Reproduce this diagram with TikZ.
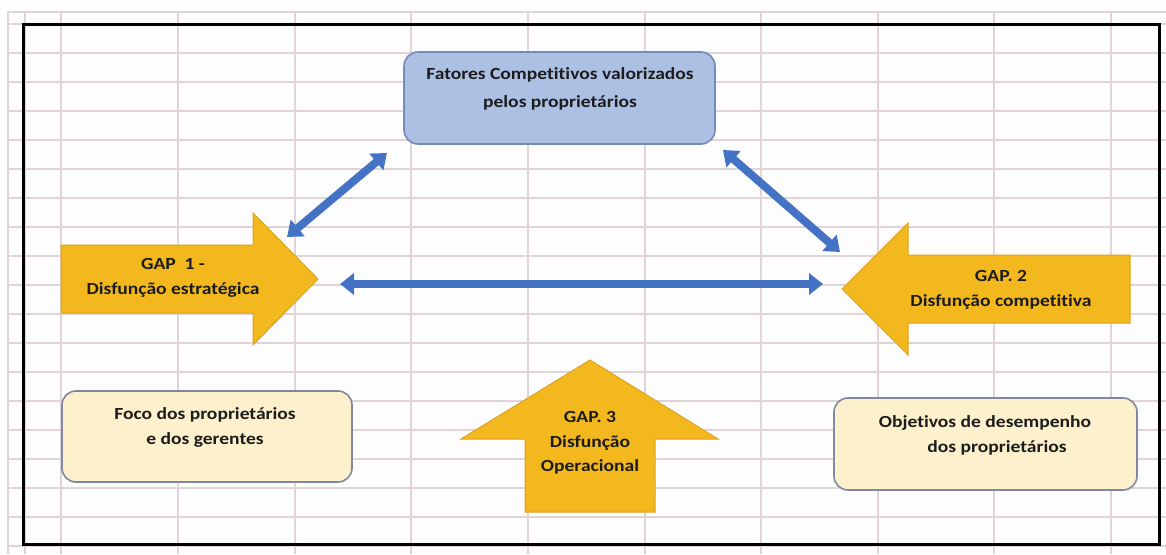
\documentclass[tikz,border=0pt]{standalone}
\usepackage{fontspec}
\setmainfont{Carlito}[FakeStretch=1.15, Ligatures=CommonOff]
\usetikzlibrary{arrows.meta}

\definecolor{gridline}{RGB}{224,212,214}
\definecolor{sheetbg}{RGB}{253,253,254}
\definecolor{gapyellow}{RGB}{243,184,30}
\definecolor{gapedge}{RGB}{222,162,32}
\definecolor{linkblue}{RGB}{68,114,196}
\definecolor{topfill}{RGB}{172,192,228}
\definecolor{topedge}{RGB}{118,138,184}
\definecolor{creamfill}{RGB}{253,240,204}
\definecolor{creamedge}{RGB}{128,136,158}
\definecolor{inktext}{RGB}{28,28,28}

\tikzset{
  gridrule/.style={draw=gridline, line width=1.3pt},
  gapshape/.style={fill=gapyellow, draw=gapedge, line width=1pt, line join=miter},
  roundbox/.style={rectangle, rounded corners=14pt, line width=1.6pt},
  topbox/.style={roundbox, fill=topfill, draw=topedge},
  creambox/.style={roundbox, fill=creamfill, draw=creamedge},
  label/.style={text=inktext, align=center, inner sep=0pt,
    font=\fontsize{17}{25}\selectfont\bfseries},
  link/.style={draw=linkblue, line width=8pt,
    {Triangle[length=14pt,width=21pt]}-{Triangle[length=14pt,width=21pt]}}
}

\begin{document}
\begin{tikzpicture}[x=1pt,y=-1pt]
\useasboundingbox (0,0) rectangle (1166,554);
\fill[white] (0,0) rectangle (1166,554);

% spreadsheet cells
\fill[sheetbg] (7,11) rectangle (1166,554);
\foreach \gx in {8,25,61,178,295,411,528,645,761,878,994,1111}
  \draw[gridrule] (\gx,11) -- (\gx,554);
\draw[gridrule] (7,12) -- (1166,12);
\foreach \k in {0,...,18}
  \draw[gridrule] (7,24+29*\k) -- (1166,24+29*\k);

% outer frame
\draw[line width=3pt] (23,24) rectangle (1159,544);

% rounded boxes
\node[topbox, minimum width=311pt, minimum height=92pt] (fatores) at (559.5,98) {};
\node[creambox, minimum width=290pt, minimum height=91pt] (foco) at (207,436.5) {};
\node[creambox, minimum width=303pt, minimum height=92pt] (objetivos) at (985.5,444) {};

% block arrows
\draw[gapshape] (61,245) -- (253,245) -- (253,213) -- (318,279) -- (253,345)
  -- (253,313) -- (61,313) -- cycle;
\draw[gapshape] (1130,255) -- (908,255) -- (908,223) -- (842,289) -- (908,355)
  -- (908,323) -- (1130,323) -- cycle;
\draw[gapshape] (525,512) -- (525,439) -- (461,439) -- (590,360) -- (718,439)
  -- (655,439) -- (655,512) -- cycle;

% texts
\node[label, font=\fontsize{17}{28}\selectfont\bfseries] (tfatores) at (560,89)
  {Fatores Competitivos valorizados\\pelos proprietários};
\node[label] (tgap1) at (173,277.5) {GAP~~1 -\\Disfunção estratégica};
\node[label] (tgap2) at (1001,289.5) {GAP. 2\\Disfunção competitiva};
\node[label, font=\fontsize{17}{24.5}\selectfont\bfseries] (tgap3) at (590,443)
  {GAP. 3\\Disfunção\\Operacional};
\node[label] (tfoco) at (205,427.5) {Foco dos proprietários\\e dos gerentes};
\node[label] (tobj) at (985,435.5)
  {Objetivos de desempenho\\\hspace*{24pt}dos proprietários};

% two-way links
\coordinate (l1a) at (287,237);
\coordinate (l1b) at (387,153);
\coordinate (l2a) at (723,150);
\coordinate (l2b) at (840,252);
\coordinate (l3a) at (340,284);
\coordinate (l3b) at (823,284);
\draw[link] (l1a) -- (l1b);
\draw[link] (l2a) -- (l2b);
\draw[link] (l3a) -- (l3b);
\end{tikzpicture}
\end{document}
